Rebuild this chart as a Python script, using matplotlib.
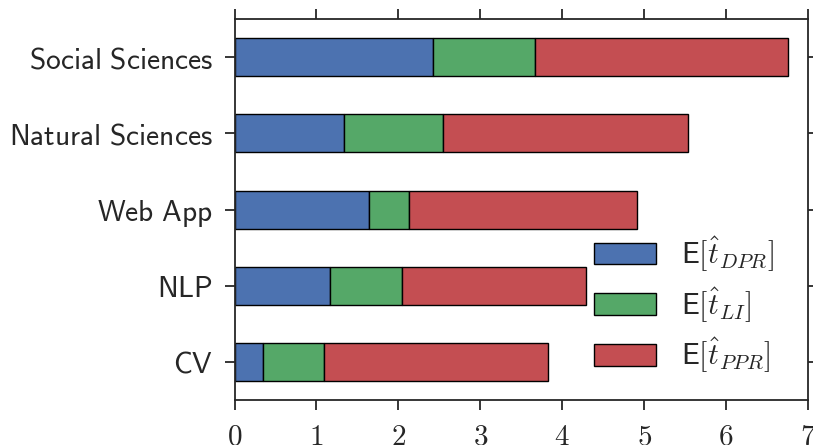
#!/usr/bin/python3
"""stacked breakdown of expected time per domain"""
import numpy as np
import matplotlib
matplotlib.use('agg')
from matplotlib import pyplot as plt

categories = ["CV", "NLP", "Web App", "Natural Sciences", "Social Sciences"]
t_dpr = [0.35, 1.17, 1.64, 1.33, 2.42]
t_li = [0.74, 0.87, 0.49, 1.21, 1.25]
t_ppr = [2.74, 2.25, 2.78, 3.00, 3.08]
x_ticks = [0, 1, 2, 3, 4, 5, 6, 7]

series_labels = [r'$\mathsf{E}[\hat{t}_{DPR}]$',
                 r'$\mathsf{E}[\hat{t}_{LI}]$',
                 r'$\mathsf{E}[\hat{t}_{PPR}]$']
colors = ['#4C72B0', '#55A868', '#C44E52']


def sans(txt):
    """wrap a plain label so mathtext renders it in computer modern sans"""
    return r'$\mathsf{' + txt.replace(' ', r'\ ') + '}$'


def plot_stacked(fname):
    plt.rcParams['mathtext.fontset'] = 'cm'
    fig = plt.figure(figsize=(8.13, 4.45), dpi=100)
    ax = fig.add_axes([0.2885, 0.101, 0.7055, 0.856])

    pos = np.arange(len(categories))
    left = np.zeros(len(categories))
    for vals, lab, col in zip([t_dpr, t_li, t_ppr], series_labels, colors):
        ax.barh(pos, vals, height=0.5, left=left, color=col,
                edgecolor='black', linewidth=1.0, label=lab)
        left += np.array(vals)

    ax.set_xlim(0, 7)
    ax.set_ylim(-0.5, 4.5)
    ax.set_xticks(x_ticks)
    ax.set_xticklabels([r'$%d$' % t for t in x_ticks])
    ax.set_yticks(pos)
    ax.set_yticklabels([sans(c) for c in categories])

    for s in ax.spines.values():
        s.set_color('#262626')
        s.set_linewidth(1.3)
    ax.tick_params(axis='both', direction='out', length=7.5, width=1.3,
                   color='#262626', labelcolor='#262626')
    ax.tick_params(axis='x', top=True, pad=9, labelsize=21)
    ax.tick_params(axis='y', right=True, pad=8, labelsize=21.2)

    ax.legend(loc='upper left', bbox_to_anchor=(0.627, 0.435), frameon=False,
              fontsize=21.5, handlelength=2.07, handleheight=0.74,
              labelspacing=0.38, handletextpad=0.85, borderpad=0,
              borderaxespad=0, labelcolor='#262626')

    fig.savefig(fname, dpi=100)


if __name__ == '__main__':
    plot_stacked("out.png")
